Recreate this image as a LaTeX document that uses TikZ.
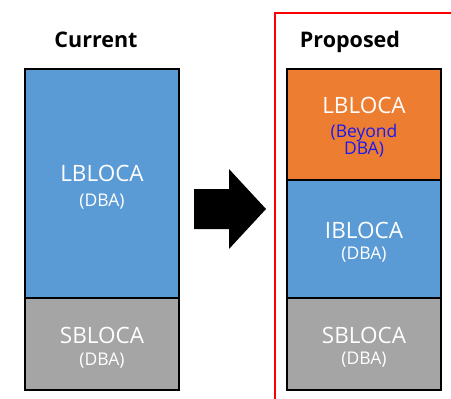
\documentclass[tikz,border=0pt]{standalone}
\usepackage{fontspec}
\setmainfont{Open Sans}
\usepackage{tikz}
\usetikzlibrary{positioning}
\definecolor{lbblue}{HTML}{5B9BD5}
\definecolor{lborange}{HTML}{ED7D31}
\definecolor{lbgrey}{HTML}{A5A5A5}
\definecolor{beyond}{HTML}{1A1AF0}
\tikzset{
  lossbox/.style={draw=black, line width=1.5pt, inner sep=0pt, outer sep=0pt,
    minimum width=154pt, align=center, text=white, text depth=0pt,
    font=\fontsize{22.5}{25}\selectfont},
  colhead/.style={font=\fontsize{21.5}{24}\selectfont\bfseries, anchor=base},
}
\newcommand{\sizetxt}[1]{{\fontsize{17.5}{21}\selectfont #1}}

\begin{document}
\begin{tikzpicture}[x=1pt, y=-1pt]
\useasboundingbox (0,0) rectangle (451,399);

%current split
\node[colhead] (curhead) at (96,47) {Current};
\node[lossbox, fill=lbblue, minimum height=229pt, text height=45pt] (cur-lb) at (102,183.5)
  {LBLOCA\\[0pt]\sizetxt{(DBA)}};
\node[lossbox, fill=lbgrey, minimum height=92pt, text height=42pt, below=0pt of cur-lb] (cur-sb)
  {SBLOCA\\[-3pt]\sizetxt{(DBA)}};

%arrow between columns
\fill (194,189) -- (229,189) -- (229,169) -- (266,209) -- (229,249)
  -- (229,229) -- (194,229) -- cycle;

%proposed split
\draw[red, line width=2pt] (275,399) -- (275,13) -- (451,13);
\node[colhead] (prophead) at (350,47) {Proposed};
\node[lossbox, fill=lborange, minimum height=111pt, text height=60pt] (prop-lb) at (364,124.5)
  {LBLOCA\\[-1pt]\sizetxt{\textcolor{beyond}{(Beyond}}\\[-7.5pt]\sizetxt{\textcolor{beyond}{DBA)}}};
\node[lossbox, fill=lbblue, minimum height=118pt, text height=40.6pt, below=0pt of prop-lb] (prop-ib)
  {IBLOCA\\[-4pt]\sizetxt{(DBA)}};
\node[lossbox, fill=lbgrey, minimum height=92pt, text height=40.6pt, below=0pt of prop-ib] (prop-sb)
  {SBLOCA\\[-4pt]\sizetxt{(DBA)}};

\end{tikzpicture}
\end{document}
